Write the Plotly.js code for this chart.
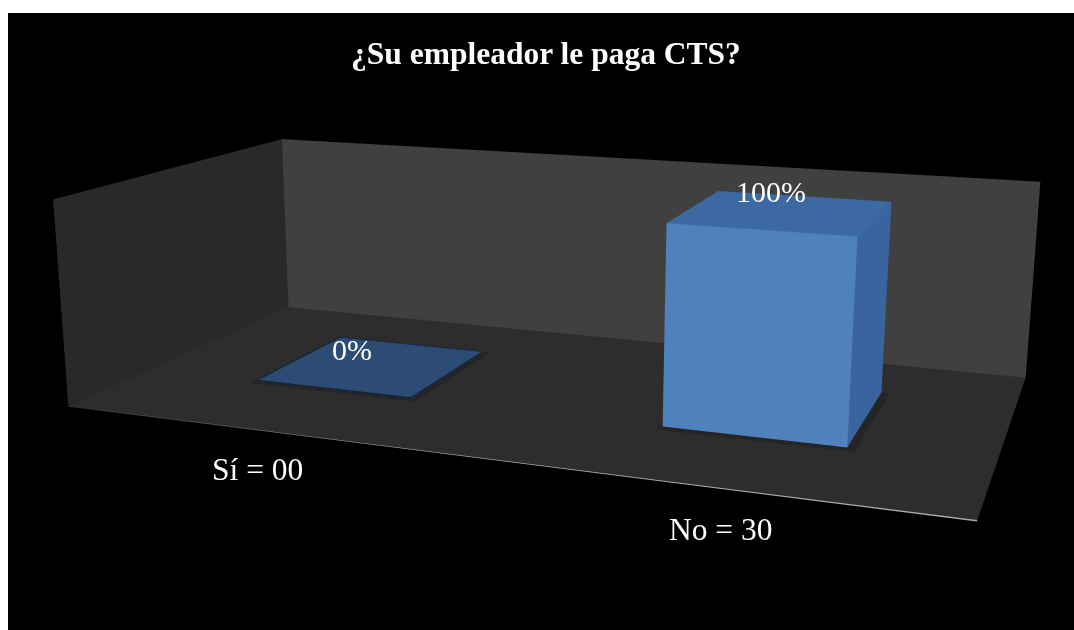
<!DOCTYPE html>
<html>
<head>
<meta charset="utf-8">
<script src="https://cdn.plot.ly/plotly-3.0.1.min.js"></script>
<style>
  html, body { margin: 0; padding: 0; background: #ffffff; width: 1074px; height: 630px; overflow: hidden; }
  #frame { position: absolute; left: 8px; top: 13px; width: 1066px; height: 617px; background: #000000; overflow: hidden; }
  #chart { position: absolute; left: -17px; top: -378px; width: 1100px; height: 1371px; }
</style>
</head>
<body>
<div id="frame"><div id="chart"></div></div>
<script>
// Survey answers: does the employer pay CTS?
const categories = ['Sí', 'No'];
const counts = [0, 30];
const percents = [0, 100];

// Axis extents of the 3D box
const xRange = [0, 2];
const yRange = [0, 1];
const zRange = [-1, 105];

// Column footprint (category units / depth units)
const barHalfWidth = 0.2;
const barDepth = [0.32, 0.74];
const shadowPad = 0.012;

const faceColors = { front: '#4f81bd', right: '#3a649e', top: '#3d69a3', back: '#3a649e', left: '#4a7ab4', bottom: '#2b4c75' };
const flatColor = '#2c4c76';

function boxTrace(xc, value) {
  const x0 = xc - barHalfWidth, x1 = xc + barHalfWidth;
  const y0 = barDepth[0], y1 = barDepth[1];
  const z0 = 0, z1 = value;
  const top = value === 0 ? flatColor : faceColors.top;
  const bottom = value === 0 ? flatColor : faceColors.bottom;
  return {
    type: 'mesh3d',
    x: [x0, x1, x1, x0, x0, x1, x1, x0],
    y: [y0, y0, y1, y1, y0, y0, y1, y1],
    z: [z0, z0, z0, z0, z1, z1, z1, z1],
    i: [0, 0, 4, 4, 0, 0, 3, 3, 0, 0, 1, 1],
    j: [1, 2, 5, 6, 1, 5, 2, 6, 3, 7, 2, 6],
    k: [2, 3, 6, 7, 5, 4, 6, 7, 7, 4, 6, 5],
    facecolor: [bottom, bottom, top, top,
                faceColors.front, faceColors.front, faceColors.back, faceColors.back,
                faceColors.left, faceColors.left, faceColors.right, faceColors.right],
    flatshading: true,
    lighting: { ambient: 1, diffuse: 0, specular: 0, roughness: 1, fresnel: 0 },
    hoverinfo: 'skip',
    showscale: false
  };
}

// Faint dark footprint under each column, lying on the floor
function shadowTrace(xc) {
  const x0 = xc - barHalfWidth - shadowPad, x1 = xc + barHalfWidth + shadowPad * 1.5;
  const y0 = barDepth[0] - shadowPad * 1.5, y1 = barDepth[1] + shadowPad;
  const z = (zRange[0] + 0) / 2;
  return {
    type: 'mesh3d',
    x: [x0, x1, x1, x0], y: [y0, y0, y1, y1], z: [z, z, z, z],
    i: [0, 0], j: [1, 2], k: [2, 3],
    color: '#252525', flatshading: true,
    lighting: { ambient: 1, diffuse: 0, specular: 0, roughness: 1, fresnel: 0 },
    hoverinfo: 'skip', showscale: false
  };
}

const traces = [];
const xPos = categories.map((c, i) => i + 0.5);
xPos.forEach((xc) => traces.push(shadowTrace(xc)));
xPos.forEach((xc, i) => traces.push(boxTrace(xc, percents[i])));

// Outline of the flat (zero-height) column
percents.forEach((v, i) => {
  if (v === 0) {
    const xc = xPos[i];
    traces.push({
      type: 'scatter3d', mode: 'lines',
      x: [xc - barHalfWidth, xc + barHalfWidth, xc + barHalfWidth, xc - barHalfWidth, xc - barHalfWidth],
      y: [barDepth[0], barDepth[0], barDepth[1], barDepth[1], barDepth[0]],
      z: [0, 0, 0, 0, 0],
      line: { color: '#16253a', width: 3 },
      hoverinfo: 'skip', showlegend: false
    });
  }
});

// Light edge along the front of the floor
traces.push({
  type: 'scatter3d', mode: 'lines',
  x: [xRange[0], xRange[1]], y: [yRange[0], yRange[0]], z: [zRange[0], zRange[0]],
  line: { color: '#a8a8a8', width: 3 },
  hoverinfo: 'skip', showlegend: false
});

const valueFont = { family: 'Liberation Serif, Times New Roman, serif', size: 30, color: '#ffffff' };
const catFont = { family: 'Liberation Serif, Times New Roman, serif', size: 31.5, color: '#ffffff' };
const annotations = [];
xPos.forEach((xc, i) => {
  annotations.push({
    x: xc, y: (barDepth[0] + barDepth[1]) / 2, z: percents[i],
    text: percents[i] + '%', showarrow: false, font: valueFont,
    xshift: i === 0 ? -21 : -12, yshift: i === 0 ? 16 : 21
  });
  annotations.push({
    x: xc, y: yRange[0], z: zRange[0],
    text: categories[i] + ' = ' + String(counts[i]).padStart(2, '0'),
    showarrow: false, font: catFont,
    xshift: i === 0 ? -5 : 7, yshift: i === 0 ? -38 : -42
  });
});

function hiddenAxis(range, bg) {
  return {
    range: range, autorange: false,
    showgrid: false, zeroline: false, showline: false, showticklabels: false,
    ticks: '', showspikes: false, title: { text: '' },
    showbackground: true, backgroundcolor: bg
  };
}

const layout = {
  width: 1100, height: 1371,
  paper_bgcolor: '#000000',
  margin: { l: 0, r: 0, t: 0, b: 0, pad: 0 },
  showlegend: false,
  title: {
    text: '<b>¿Su empleador le paga CTS?</b>',
    font: { family: 'Liberation Serif, Times New Roman, serif', size: 31.5, color: '#ffffff' },
    x: 0.5045, y: 0.695, xref: 'container', yref: 'container', xanchor: 'center', yanchor: 'middle'
  },
  scene: {
    domain: { x: [0, 1], y: [0, 1] },
    bgcolor: 'rgba(0,0,0,0)',
    aspectmode: 'manual',
    aspectratio: { x: 2.0, y: 1.009, z: 0.474 },
    xaxis: hiddenAxis(xRange, '#292929'),
    yaxis: hiddenAxis(yRange, '#404040'),
    zaxis: hiddenAxis(zRange, '#2d2d2d'),
    camera: {
      eye: { x: 1.263, y: -3.468, z: 0.871 },
      center: { x: -0.037, y: -0.035, z: -0.061 },
      up: { x: 0, y: 0, z: 1 },
      projection: { type: 'perspective' }
    },
    annotations: annotations
  }
};

Plotly.newPlot('chart', traces, layout, { displayModeBar: false });
</script>
</body>
</html>
